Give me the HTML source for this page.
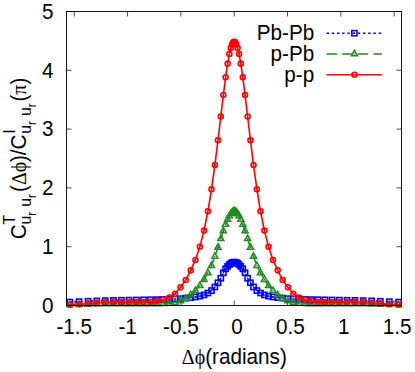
<!DOCTYPE html>
<html><head><meta charset="utf-8"><title>plot</title>
<style>
html,body{margin:0;padding:0;background:#fff;}
body{width:415px;height:372px;overflow:hidden;}
svg{display:block;}
.s{font-family:"Liberation Sans",sans-serif;font-size:22.6px;fill:#000;}
.sy{font-family:"Liberation Serif",serif;}
</style></head><body>
<svg width="415" height="372" viewBox="0 0 415 372">
<rect width="415" height="372" fill="#fff"/>
<path d="M74.25,305.5 v-5 M74.25,11.5 v5 M127.57,305.5 v-5 M127.57,11.5 v5 M180.88,305.5 v-5 M180.88,11.5 v5 M234.20,305.5 v-5 M234.20,11.5 v5 M287.51,305.5 v-5 M287.51,11.5 v5 M340.83,305.5 v-5 M340.83,11.5 v5 M394.14,305.5 v-5 M394.14,11.5 v5 M66.5,305.50 h5 M401.5,305.50 h-5 M66.5,246.70 h5 M401.5,246.70 h-5 M66.5,187.90 h5 M401.5,187.90 h-5 M66.5,129.10 h5 M401.5,129.10 h-5 M66.5,70.30 h5 M401.5,70.30 h-5 M66.5,11.50 h5 M401.5,11.50 h-5" stroke="#000" stroke-width="0.7" fill="none"/>
<polyline points="69.80,302.09 79.06,301.65 88.06,301.26 96.78,300.92 105.23,300.64 113.42,300.42 121.34,300.26 128.99,300.12 136.37,300.00 143.48,299.87 150.32,299.73 156.90,299.61 163.21,299.48 169.25,299.32 175.02,299.11 180.52,298.69 185.75,298.16 190.72,297.59 195.42,296.98 199.84,296.16 204.00,294.90 207.90,293.02 211.52,290.58 214.88,286.98 217.96,282.76 220.78,278.25 223.33,272.80 225.61,268.85 227.62,266.37 229.37,264.57 230.84,263.38 232.05,262.68 232.99,262.43 233.66,262.32 234.07,262.28 234.20,262.28 234.33,262.28 234.74,262.32 235.41,262.43 236.35,262.68 237.55,263.38 239.03,264.57 240.78,266.37 242.79,268.85 245.07,272.80 247.62,278.25 250.44,282.76 253.52,286.98 256.88,290.58 260.50,293.02 264.39,294.90 268.56,296.16 272.98,296.98 277.68,297.59 282.65,298.16 287.88,298.69 293.38,299.11 299.15,299.32 305.19,299.48 311.50,299.61 318.07,299.73 324.92,299.87 332.03,300.00 339.41,300.12 347.06,300.26 354.98,300.42 363.17,300.64 371.62,300.92 380.34,301.26 389.34,301.65 398.60,302.09" fill="none" stroke="#0000ff" stroke-width="1.6" stroke-dasharray="2.4 2.8" stroke-linejoin="round"/>
<circle cx="69.80" cy="302.09" r="0.75" fill="#0000ff"/><rect x="67.20" y="299.49" width="5.20" height="5.20" fill="none" stroke="#0000ff" stroke-width="1.55"/>
<circle cx="79.06" cy="301.65" r="0.75" fill="#0000ff"/><rect x="76.46" y="299.05" width="5.20" height="5.20" fill="none" stroke="#0000ff" stroke-width="1.55"/>
<circle cx="88.06" cy="301.26" r="0.75" fill="#0000ff"/><rect x="85.46" y="298.66" width="5.20" height="5.20" fill="none" stroke="#0000ff" stroke-width="1.55"/>
<circle cx="96.78" cy="300.92" r="0.75" fill="#0000ff"/><rect x="94.18" y="298.32" width="5.20" height="5.20" fill="none" stroke="#0000ff" stroke-width="1.55"/>
<circle cx="105.23" cy="300.64" r="0.75" fill="#0000ff"/><rect x="102.63" y="298.04" width="5.20" height="5.20" fill="none" stroke="#0000ff" stroke-width="1.55"/>
<circle cx="113.42" cy="300.42" r="0.75" fill="#0000ff"/><rect x="110.82" y="297.82" width="5.20" height="5.20" fill="none" stroke="#0000ff" stroke-width="1.55"/>
<circle cx="121.34" cy="300.26" r="0.75" fill="#0000ff"/><rect x="118.74" y="297.66" width="5.20" height="5.20" fill="none" stroke="#0000ff" stroke-width="1.55"/>
<circle cx="128.99" cy="300.12" r="0.75" fill="#0000ff"/><rect x="126.39" y="297.52" width="5.20" height="5.20" fill="none" stroke="#0000ff" stroke-width="1.55"/>
<circle cx="136.37" cy="300.00" r="0.75" fill="#0000ff"/><rect x="133.77" y="297.40" width="5.20" height="5.20" fill="none" stroke="#0000ff" stroke-width="1.55"/>
<circle cx="143.48" cy="299.87" r="0.75" fill="#0000ff"/><rect x="140.88" y="297.27" width="5.20" height="5.20" fill="none" stroke="#0000ff" stroke-width="1.55"/>
<circle cx="150.32" cy="299.73" r="0.75" fill="#0000ff"/><rect x="147.72" y="297.13" width="5.20" height="5.20" fill="none" stroke="#0000ff" stroke-width="1.55"/>
<circle cx="156.90" cy="299.61" r="0.75" fill="#0000ff"/><rect x="154.30" y="297.01" width="5.20" height="5.20" fill="none" stroke="#0000ff" stroke-width="1.55"/>
<circle cx="163.21" cy="299.48" r="0.75" fill="#0000ff"/><rect x="160.61" y="296.88" width="5.20" height="5.20" fill="none" stroke="#0000ff" stroke-width="1.55"/>
<circle cx="169.25" cy="299.32" r="0.75" fill="#0000ff"/><rect x="166.65" y="296.72" width="5.20" height="5.20" fill="none" stroke="#0000ff" stroke-width="1.55"/>
<circle cx="175.02" cy="299.11" r="0.75" fill="#0000ff"/><rect x="172.42" y="296.51" width="5.20" height="5.20" fill="none" stroke="#0000ff" stroke-width="1.55"/>
<circle cx="180.52" cy="298.69" r="0.75" fill="#0000ff"/><rect x="177.92" y="296.09" width="5.20" height="5.20" fill="none" stroke="#0000ff" stroke-width="1.55"/>
<circle cx="185.75" cy="298.16" r="0.75" fill="#0000ff"/><rect x="183.15" y="295.56" width="5.20" height="5.20" fill="none" stroke="#0000ff" stroke-width="1.55"/>
<circle cx="190.72" cy="297.59" r="0.75" fill="#0000ff"/><rect x="188.12" y="294.99" width="5.20" height="5.20" fill="none" stroke="#0000ff" stroke-width="1.55"/>
<circle cx="195.42" cy="296.98" r="0.75" fill="#0000ff"/><rect x="192.82" y="294.38" width="5.20" height="5.20" fill="none" stroke="#0000ff" stroke-width="1.55"/>
<circle cx="199.84" cy="296.16" r="0.75" fill="#0000ff"/><rect x="197.24" y="293.56" width="5.20" height="5.20" fill="none" stroke="#0000ff" stroke-width="1.55"/>
<circle cx="204.00" cy="294.90" r="0.75" fill="#0000ff"/><rect x="201.41" y="292.30" width="5.20" height="5.20" fill="none" stroke="#0000ff" stroke-width="1.55"/>
<circle cx="207.90" cy="293.02" r="0.75" fill="#0000ff"/><rect x="205.30" y="290.42" width="5.20" height="5.20" fill="none" stroke="#0000ff" stroke-width="1.55"/>
<circle cx="211.52" cy="290.58" r="0.75" fill="#0000ff"/><rect x="208.92" y="287.98" width="5.20" height="5.20" fill="none" stroke="#0000ff" stroke-width="1.55"/>
<circle cx="214.88" cy="286.98" r="0.75" fill="#0000ff"/><rect x="212.28" y="284.38" width="5.20" height="5.20" fill="none" stroke="#0000ff" stroke-width="1.55"/>
<circle cx="217.96" cy="282.76" r="0.75" fill="#0000ff"/><rect x="215.36" y="280.16" width="5.20" height="5.20" fill="none" stroke="#0000ff" stroke-width="1.55"/>
<circle cx="220.78" cy="278.25" r="0.75" fill="#0000ff"/><rect x="218.18" y="275.65" width="5.20" height="5.20" fill="none" stroke="#0000ff" stroke-width="1.55"/>
<circle cx="223.33" cy="272.80" r="0.75" fill="#0000ff"/><rect x="220.73" y="270.20" width="5.20" height="5.20" fill="none" stroke="#0000ff" stroke-width="1.55"/>
<circle cx="225.61" cy="268.85" r="0.75" fill="#0000ff"/><rect x="223.01" y="266.25" width="5.20" height="5.20" fill="none" stroke="#0000ff" stroke-width="1.55"/>
<circle cx="227.62" cy="266.37" r="0.75" fill="#0000ff"/><rect x="225.02" y="263.77" width="5.20" height="5.20" fill="none" stroke="#0000ff" stroke-width="1.55"/>
<circle cx="229.37" cy="264.57" r="0.75" fill="#0000ff"/><rect x="226.77" y="261.97" width="5.20" height="5.20" fill="none" stroke="#0000ff" stroke-width="1.55"/>
<circle cx="230.84" cy="263.38" r="0.75" fill="#0000ff"/><rect x="228.25" y="260.78" width="5.20" height="5.20" fill="none" stroke="#0000ff" stroke-width="1.55"/>
<circle cx="232.05" cy="262.68" r="0.75" fill="#0000ff"/><rect x="229.45" y="260.08" width="5.20" height="5.20" fill="none" stroke="#0000ff" stroke-width="1.55"/>
<circle cx="232.99" cy="262.43" r="0.75" fill="#0000ff"/><rect x="230.39" y="259.83" width="5.20" height="5.20" fill="none" stroke="#0000ff" stroke-width="1.55"/>
<circle cx="233.66" cy="262.32" r="0.75" fill="#0000ff"/><rect x="231.06" y="259.72" width="5.20" height="5.20" fill="none" stroke="#0000ff" stroke-width="1.55"/>
<circle cx="234.07" cy="262.28" r="0.75" fill="#0000ff"/><rect x="231.47" y="259.68" width="5.20" height="5.20" fill="none" stroke="#0000ff" stroke-width="1.55"/>
<circle cx="234.20" cy="262.28" r="0.75" fill="#0000ff"/><rect x="231.60" y="259.68" width="5.20" height="5.20" fill="none" stroke="#0000ff" stroke-width="1.55"/>
<circle cx="234.33" cy="262.28" r="0.75" fill="#0000ff"/><rect x="231.73" y="259.68" width="5.20" height="5.20" fill="none" stroke="#0000ff" stroke-width="1.55"/>
<circle cx="234.74" cy="262.32" r="0.75" fill="#0000ff"/><rect x="232.14" y="259.72" width="5.20" height="5.20" fill="none" stroke="#0000ff" stroke-width="1.55"/>
<circle cx="235.41" cy="262.43" r="0.75" fill="#0000ff"/><rect x="232.81" y="259.83" width="5.20" height="5.20" fill="none" stroke="#0000ff" stroke-width="1.55"/>
<circle cx="236.35" cy="262.68" r="0.75" fill="#0000ff"/><rect x="233.75" y="260.08" width="5.20" height="5.20" fill="none" stroke="#0000ff" stroke-width="1.55"/>
<circle cx="237.55" cy="263.38" r="0.75" fill="#0000ff"/><rect x="234.95" y="260.78" width="5.20" height="5.20" fill="none" stroke="#0000ff" stroke-width="1.55"/>
<circle cx="239.03" cy="264.57" r="0.75" fill="#0000ff"/><rect x="236.43" y="261.97" width="5.20" height="5.20" fill="none" stroke="#0000ff" stroke-width="1.55"/>
<circle cx="240.78" cy="266.37" r="0.75" fill="#0000ff"/><rect x="238.18" y="263.77" width="5.20" height="5.20" fill="none" stroke="#0000ff" stroke-width="1.55"/>
<circle cx="242.79" cy="268.85" r="0.75" fill="#0000ff"/><rect x="240.19" y="266.25" width="5.20" height="5.20" fill="none" stroke="#0000ff" stroke-width="1.55"/>
<circle cx="245.07" cy="272.80" r="0.75" fill="#0000ff"/><rect x="242.47" y="270.20" width="5.20" height="5.20" fill="none" stroke="#0000ff" stroke-width="1.55"/>
<circle cx="247.62" cy="278.25" r="0.75" fill="#0000ff"/><rect x="245.02" y="275.65" width="5.20" height="5.20" fill="none" stroke="#0000ff" stroke-width="1.55"/>
<circle cx="250.44" cy="282.76" r="0.75" fill="#0000ff"/><rect x="247.84" y="280.16" width="5.20" height="5.20" fill="none" stroke="#0000ff" stroke-width="1.55"/>
<circle cx="253.52" cy="286.98" r="0.75" fill="#0000ff"/><rect x="250.92" y="284.38" width="5.20" height="5.20" fill="none" stroke="#0000ff" stroke-width="1.55"/>
<circle cx="256.88" cy="290.58" r="0.75" fill="#0000ff"/><rect x="254.28" y="287.98" width="5.20" height="5.20" fill="none" stroke="#0000ff" stroke-width="1.55"/>
<circle cx="260.50" cy="293.02" r="0.75" fill="#0000ff"/><rect x="257.90" y="290.42" width="5.20" height="5.20" fill="none" stroke="#0000ff" stroke-width="1.55"/>
<circle cx="264.39" cy="294.90" r="0.75" fill="#0000ff"/><rect x="261.79" y="292.30" width="5.20" height="5.20" fill="none" stroke="#0000ff" stroke-width="1.55"/>
<circle cx="268.56" cy="296.16" r="0.75" fill="#0000ff"/><rect x="265.96" y="293.56" width="5.20" height="5.20" fill="none" stroke="#0000ff" stroke-width="1.55"/>
<circle cx="272.98" cy="296.98" r="0.75" fill="#0000ff"/><rect x="270.38" y="294.38" width="5.20" height="5.20" fill="none" stroke="#0000ff" stroke-width="1.55"/>
<circle cx="277.68" cy="297.59" r="0.75" fill="#0000ff"/><rect x="275.08" y="294.99" width="5.20" height="5.20" fill="none" stroke="#0000ff" stroke-width="1.55"/>
<circle cx="282.65" cy="298.16" r="0.75" fill="#0000ff"/><rect x="280.05" y="295.56" width="5.20" height="5.20" fill="none" stroke="#0000ff" stroke-width="1.55"/>
<circle cx="287.88" cy="298.69" r="0.75" fill="#0000ff"/><rect x="285.28" y="296.09" width="5.20" height="5.20" fill="none" stroke="#0000ff" stroke-width="1.55"/>
<circle cx="293.38" cy="299.11" r="0.75" fill="#0000ff"/><rect x="290.78" y="296.51" width="5.20" height="5.20" fill="none" stroke="#0000ff" stroke-width="1.55"/>
<circle cx="299.15" cy="299.32" r="0.75" fill="#0000ff"/><rect x="296.55" y="296.72" width="5.20" height="5.20" fill="none" stroke="#0000ff" stroke-width="1.55"/>
<circle cx="305.19" cy="299.48" r="0.75" fill="#0000ff"/><rect x="302.59" y="296.88" width="5.20" height="5.20" fill="none" stroke="#0000ff" stroke-width="1.55"/>
<circle cx="311.50" cy="299.61" r="0.75" fill="#0000ff"/><rect x="308.90" y="297.01" width="5.20" height="5.20" fill="none" stroke="#0000ff" stroke-width="1.55"/>
<circle cx="318.07" cy="299.73" r="0.75" fill="#0000ff"/><rect x="315.47" y="297.13" width="5.20" height="5.20" fill="none" stroke="#0000ff" stroke-width="1.55"/>
<circle cx="324.92" cy="299.87" r="0.75" fill="#0000ff"/><rect x="322.32" y="297.27" width="5.20" height="5.20" fill="none" stroke="#0000ff" stroke-width="1.55"/>
<circle cx="332.03" cy="300.00" r="0.75" fill="#0000ff"/><rect x="329.43" y="297.40" width="5.20" height="5.20" fill="none" stroke="#0000ff" stroke-width="1.55"/>
<circle cx="339.41" cy="300.12" r="0.75" fill="#0000ff"/><rect x="336.81" y="297.52" width="5.20" height="5.20" fill="none" stroke="#0000ff" stroke-width="1.55"/>
<circle cx="347.06" cy="300.26" r="0.75" fill="#0000ff"/><rect x="344.46" y="297.66" width="5.20" height="5.20" fill="none" stroke="#0000ff" stroke-width="1.55"/>
<circle cx="354.98" cy="300.42" r="0.75" fill="#0000ff"/><rect x="352.38" y="297.82" width="5.20" height="5.20" fill="none" stroke="#0000ff" stroke-width="1.55"/>
<circle cx="363.17" cy="300.64" r="0.75" fill="#0000ff"/><rect x="360.57" y="298.04" width="5.20" height="5.20" fill="none" stroke="#0000ff" stroke-width="1.55"/>
<circle cx="371.62" cy="300.92" r="0.75" fill="#0000ff"/><rect x="369.02" y="298.32" width="5.20" height="5.20" fill="none" stroke="#0000ff" stroke-width="1.55"/>
<circle cx="380.34" cy="301.26" r="0.75" fill="#0000ff"/><rect x="377.74" y="298.66" width="5.20" height="5.20" fill="none" stroke="#0000ff" stroke-width="1.55"/>
<circle cx="389.34" cy="301.65" r="0.75" fill="#0000ff"/><rect x="386.74" y="299.05" width="5.20" height="5.20" fill="none" stroke="#0000ff" stroke-width="1.55"/>
<circle cx="398.60" cy="302.09" r="0.75" fill="#0000ff"/><rect x="396.00" y="299.49" width="5.20" height="5.20" fill="none" stroke="#0000ff" stroke-width="1.55"/>
<polyline points="69.80,304.91 79.06,304.62 88.06,304.32 96.78,304.09 105.23,303.97 113.42,303.97 121.34,303.97 128.99,303.97 136.37,303.97 143.48,303.97 150.32,303.97 156.90,303.91 163.21,303.74 169.25,303.38 175.02,302.74 180.52,300.91 185.75,298.44 190.72,294.92 195.42,290.68 199.84,285.74 204.00,279.57 207.90,272.81 211.52,265.63 214.88,256.40 217.96,247.51 220.78,238.78 223.33,230.95 225.61,224.44 227.62,219.45 229.37,215.94 230.84,213.70 232.05,212.43 232.99,211.82 233.66,211.59 234.07,211.54 234.20,211.54 234.33,211.54 234.74,211.59 235.41,211.82 236.35,212.43 237.55,213.70 239.03,215.94 240.78,219.45 242.79,224.44 245.07,230.95 247.62,238.78 250.44,247.51 253.52,256.40 256.88,265.63 260.50,272.81 264.39,279.57 268.56,285.74 272.98,290.68 277.68,294.92 282.65,298.44 287.88,300.91 293.38,302.74 299.15,303.38 305.19,303.74 311.50,303.91 318.07,303.97 324.92,303.97 332.03,303.97 339.41,303.97 347.06,303.97 354.98,303.97 363.17,303.97 371.62,304.09 380.34,304.32 389.34,304.62 398.60,304.91" fill="none" stroke="#228b22" stroke-width="1.6" stroke-dasharray="10.4 5.2" stroke-linejoin="round"/>
<circle cx="69.80" cy="304.91" r="0.75" fill="#228b22"/><path d="M69.80,301.31 L72.80,306.71 L66.80,306.71 Z" fill="none" stroke="#228b22" stroke-width="1.55" stroke-linejoin="miter"/>
<circle cx="79.06" cy="304.62" r="0.75" fill="#228b22"/><path d="M79.06,301.02 L82.06,306.42 L76.06,306.42 Z" fill="none" stroke="#228b22" stroke-width="1.55" stroke-linejoin="miter"/>
<circle cx="88.06" cy="304.32" r="0.75" fill="#228b22"/><path d="M88.06,300.72 L91.06,306.12 L85.06,306.12 Z" fill="none" stroke="#228b22" stroke-width="1.55" stroke-linejoin="miter"/>
<circle cx="96.78" cy="304.09" r="0.75" fill="#228b22"/><path d="M96.78,300.49 L99.78,305.89 L93.78,305.89 Z" fill="none" stroke="#228b22" stroke-width="1.55" stroke-linejoin="miter"/>
<circle cx="105.23" cy="303.97" r="0.75" fill="#228b22"/><path d="M105.23,300.37 L108.23,305.77 L102.23,305.77 Z" fill="none" stroke="#228b22" stroke-width="1.55" stroke-linejoin="miter"/>
<circle cx="113.42" cy="303.97" r="0.75" fill="#228b22"/><path d="M113.42,300.37 L116.42,305.77 L110.42,305.77 Z" fill="none" stroke="#228b22" stroke-width="1.55" stroke-linejoin="miter"/>
<circle cx="121.34" cy="303.97" r="0.75" fill="#228b22"/><path d="M121.34,300.37 L124.34,305.77 L118.34,305.77 Z" fill="none" stroke="#228b22" stroke-width="1.55" stroke-linejoin="miter"/>
<circle cx="128.99" cy="303.97" r="0.75" fill="#228b22"/><path d="M128.99,300.37 L131.99,305.77 L125.99,305.77 Z" fill="none" stroke="#228b22" stroke-width="1.55" stroke-linejoin="miter"/>
<circle cx="136.37" cy="303.97" r="0.75" fill="#228b22"/><path d="M136.37,300.37 L139.37,305.77 L133.37,305.77 Z" fill="none" stroke="#228b22" stroke-width="1.55" stroke-linejoin="miter"/>
<circle cx="143.48" cy="303.97" r="0.75" fill="#228b22"/><path d="M143.48,300.37 L146.48,305.77 L140.48,305.77 Z" fill="none" stroke="#228b22" stroke-width="1.55" stroke-linejoin="miter"/>
<circle cx="150.32" cy="303.97" r="0.75" fill="#228b22"/><path d="M150.32,300.37 L153.32,305.77 L147.32,305.77 Z" fill="none" stroke="#228b22" stroke-width="1.55" stroke-linejoin="miter"/>
<circle cx="156.90" cy="303.91" r="0.75" fill="#228b22"/><path d="M156.90,300.31 L159.90,305.71 L153.90,305.71 Z" fill="none" stroke="#228b22" stroke-width="1.55" stroke-linejoin="miter"/>
<circle cx="163.21" cy="303.74" r="0.75" fill="#228b22"/><path d="M163.21,300.14 L166.21,305.54 L160.21,305.54 Z" fill="none" stroke="#228b22" stroke-width="1.55" stroke-linejoin="miter"/>
<circle cx="169.25" cy="303.38" r="0.75" fill="#228b22"/><path d="M169.25,299.78 L172.25,305.18 L166.25,305.18 Z" fill="none" stroke="#228b22" stroke-width="1.55" stroke-linejoin="miter"/>
<circle cx="175.02" cy="302.74" r="0.75" fill="#228b22"/><path d="M175.02,299.14 L178.02,304.54 L172.02,304.54 Z" fill="none" stroke="#228b22" stroke-width="1.55" stroke-linejoin="miter"/>
<circle cx="180.52" cy="300.91" r="0.75" fill="#228b22"/><path d="M180.52,297.31 L183.52,302.71 L177.52,302.71 Z" fill="none" stroke="#228b22" stroke-width="1.55" stroke-linejoin="miter"/>
<circle cx="185.75" cy="298.44" r="0.75" fill="#228b22"/><path d="M185.75,294.84 L188.75,300.24 L182.75,300.24 Z" fill="none" stroke="#228b22" stroke-width="1.55" stroke-linejoin="miter"/>
<circle cx="190.72" cy="294.92" r="0.75" fill="#228b22"/><path d="M190.72,291.32 L193.72,296.72 L187.72,296.72 Z" fill="none" stroke="#228b22" stroke-width="1.55" stroke-linejoin="miter"/>
<circle cx="195.42" cy="290.68" r="0.75" fill="#228b22"/><path d="M195.42,287.08 L198.42,292.48 L192.42,292.48 Z" fill="none" stroke="#228b22" stroke-width="1.55" stroke-linejoin="miter"/>
<circle cx="199.84" cy="285.74" r="0.75" fill="#228b22"/><path d="M199.84,282.14 L202.84,287.54 L196.84,287.54 Z" fill="none" stroke="#228b22" stroke-width="1.55" stroke-linejoin="miter"/>
<circle cx="204.00" cy="279.57" r="0.75" fill="#228b22"/><path d="M204.00,275.97 L207.00,281.37 L201.00,281.37 Z" fill="none" stroke="#228b22" stroke-width="1.55" stroke-linejoin="miter"/>
<circle cx="207.90" cy="272.81" r="0.75" fill="#228b22"/><path d="M207.90,269.21 L210.90,274.61 L204.90,274.61 Z" fill="none" stroke="#228b22" stroke-width="1.55" stroke-linejoin="miter"/>
<circle cx="211.52" cy="265.63" r="0.75" fill="#228b22"/><path d="M211.52,262.03 L214.52,267.43 L208.52,267.43 Z" fill="none" stroke="#228b22" stroke-width="1.55" stroke-linejoin="miter"/>
<circle cx="214.88" cy="256.40" r="0.75" fill="#228b22"/><path d="M214.88,252.80 L217.88,258.20 L211.88,258.20 Z" fill="none" stroke="#228b22" stroke-width="1.55" stroke-linejoin="miter"/>
<circle cx="217.96" cy="247.51" r="0.75" fill="#228b22"/><path d="M217.96,243.91 L220.96,249.31 L214.96,249.31 Z" fill="none" stroke="#228b22" stroke-width="1.55" stroke-linejoin="miter"/>
<circle cx="220.78" cy="238.78" r="0.75" fill="#228b22"/><path d="M220.78,235.18 L223.78,240.58 L217.78,240.58 Z" fill="none" stroke="#228b22" stroke-width="1.55" stroke-linejoin="miter"/>
<circle cx="223.33" cy="230.95" r="0.75" fill="#228b22"/><path d="M223.33,227.35 L226.33,232.75 L220.33,232.75 Z" fill="none" stroke="#228b22" stroke-width="1.55" stroke-linejoin="miter"/>
<circle cx="225.61" cy="224.44" r="0.75" fill="#228b22"/><path d="M225.61,220.84 L228.61,226.24 L222.61,226.24 Z" fill="none" stroke="#228b22" stroke-width="1.55" stroke-linejoin="miter"/>
<circle cx="227.62" cy="219.45" r="0.75" fill="#228b22"/><path d="M227.62,215.85 L230.62,221.25 L224.62,221.25 Z" fill="none" stroke="#228b22" stroke-width="1.55" stroke-linejoin="miter"/>
<circle cx="229.37" cy="215.94" r="0.75" fill="#228b22"/><path d="M229.37,212.34 L232.37,217.74 L226.37,217.74 Z" fill="none" stroke="#228b22" stroke-width="1.55" stroke-linejoin="miter"/>
<circle cx="230.84" cy="213.70" r="0.75" fill="#228b22"/><path d="M230.84,210.10 L233.84,215.50 L227.84,215.50 Z" fill="none" stroke="#228b22" stroke-width="1.55" stroke-linejoin="miter"/>
<circle cx="232.05" cy="212.43" r="0.75" fill="#228b22"/><path d="M232.05,208.83 L235.05,214.23 L229.05,214.23 Z" fill="none" stroke="#228b22" stroke-width="1.55" stroke-linejoin="miter"/>
<circle cx="232.99" cy="211.82" r="0.75" fill="#228b22"/><path d="M232.99,208.22 L235.99,213.62 L229.99,213.62 Z" fill="none" stroke="#228b22" stroke-width="1.55" stroke-linejoin="miter"/>
<circle cx="233.66" cy="211.59" r="0.75" fill="#228b22"/><path d="M233.66,207.99 L236.66,213.39 L230.66,213.39 Z" fill="none" stroke="#228b22" stroke-width="1.55" stroke-linejoin="miter"/>
<circle cx="234.07" cy="211.54" r="0.75" fill="#228b22"/><path d="M234.07,207.94 L237.07,213.34 L231.07,213.34 Z" fill="none" stroke="#228b22" stroke-width="1.55" stroke-linejoin="miter"/>
<circle cx="234.20" cy="211.54" r="0.75" fill="#228b22"/><path d="M234.20,207.94 L237.20,213.34 L231.20,213.34 Z" fill="none" stroke="#228b22" stroke-width="1.55" stroke-linejoin="miter"/>
<circle cx="234.33" cy="211.54" r="0.75" fill="#228b22"/><path d="M234.33,207.94 L237.33,213.34 L231.33,213.34 Z" fill="none" stroke="#228b22" stroke-width="1.55" stroke-linejoin="miter"/>
<circle cx="234.74" cy="211.59" r="0.75" fill="#228b22"/><path d="M234.74,207.99 L237.74,213.39 L231.74,213.39 Z" fill="none" stroke="#228b22" stroke-width="1.55" stroke-linejoin="miter"/>
<circle cx="235.41" cy="211.82" r="0.75" fill="#228b22"/><path d="M235.41,208.22 L238.41,213.62 L232.41,213.62 Z" fill="none" stroke="#228b22" stroke-width="1.55" stroke-linejoin="miter"/>
<circle cx="236.35" cy="212.43" r="0.75" fill="#228b22"/><path d="M236.35,208.83 L239.35,214.23 L233.35,214.23 Z" fill="none" stroke="#228b22" stroke-width="1.55" stroke-linejoin="miter"/>
<circle cx="237.55" cy="213.70" r="0.75" fill="#228b22"/><path d="M237.55,210.10 L240.55,215.50 L234.55,215.50 Z" fill="none" stroke="#228b22" stroke-width="1.55" stroke-linejoin="miter"/>
<circle cx="239.03" cy="215.94" r="0.75" fill="#228b22"/><path d="M239.03,212.34 L242.03,217.74 L236.03,217.74 Z" fill="none" stroke="#228b22" stroke-width="1.55" stroke-linejoin="miter"/>
<circle cx="240.78" cy="219.45" r="0.75" fill="#228b22"/><path d="M240.78,215.85 L243.78,221.25 L237.78,221.25 Z" fill="none" stroke="#228b22" stroke-width="1.55" stroke-linejoin="miter"/>
<circle cx="242.79" cy="224.44" r="0.75" fill="#228b22"/><path d="M242.79,220.84 L245.79,226.24 L239.79,226.24 Z" fill="none" stroke="#228b22" stroke-width="1.55" stroke-linejoin="miter"/>
<circle cx="245.07" cy="230.95" r="0.75" fill="#228b22"/><path d="M245.07,227.35 L248.07,232.75 L242.07,232.75 Z" fill="none" stroke="#228b22" stroke-width="1.55" stroke-linejoin="miter"/>
<circle cx="247.62" cy="238.78" r="0.75" fill="#228b22"/><path d="M247.62,235.18 L250.62,240.58 L244.62,240.58 Z" fill="none" stroke="#228b22" stroke-width="1.55" stroke-linejoin="miter"/>
<circle cx="250.44" cy="247.51" r="0.75" fill="#228b22"/><path d="M250.44,243.91 L253.44,249.31 L247.44,249.31 Z" fill="none" stroke="#228b22" stroke-width="1.55" stroke-linejoin="miter"/>
<circle cx="253.52" cy="256.40" r="0.75" fill="#228b22"/><path d="M253.52,252.80 L256.52,258.20 L250.52,258.20 Z" fill="none" stroke="#228b22" stroke-width="1.55" stroke-linejoin="miter"/>
<circle cx="256.88" cy="265.63" r="0.75" fill="#228b22"/><path d="M256.88,262.03 L259.88,267.43 L253.88,267.43 Z" fill="none" stroke="#228b22" stroke-width="1.55" stroke-linejoin="miter"/>
<circle cx="260.50" cy="272.81" r="0.75" fill="#228b22"/><path d="M260.50,269.21 L263.50,274.61 L257.50,274.61 Z" fill="none" stroke="#228b22" stroke-width="1.55" stroke-linejoin="miter"/>
<circle cx="264.39" cy="279.57" r="0.75" fill="#228b22"/><path d="M264.39,275.97 L267.39,281.37 L261.39,281.37 Z" fill="none" stroke="#228b22" stroke-width="1.55" stroke-linejoin="miter"/>
<circle cx="268.56" cy="285.74" r="0.75" fill="#228b22"/><path d="M268.56,282.14 L271.56,287.54 L265.56,287.54 Z" fill="none" stroke="#228b22" stroke-width="1.55" stroke-linejoin="miter"/>
<circle cx="272.98" cy="290.68" r="0.75" fill="#228b22"/><path d="M272.98,287.08 L275.98,292.48 L269.98,292.48 Z" fill="none" stroke="#228b22" stroke-width="1.55" stroke-linejoin="miter"/>
<circle cx="277.68" cy="294.92" r="0.75" fill="#228b22"/><path d="M277.68,291.32 L280.68,296.72 L274.68,296.72 Z" fill="none" stroke="#228b22" stroke-width="1.55" stroke-linejoin="miter"/>
<circle cx="282.65" cy="298.44" r="0.75" fill="#228b22"/><path d="M282.65,294.84 L285.65,300.24 L279.65,300.24 Z" fill="none" stroke="#228b22" stroke-width="1.55" stroke-linejoin="miter"/>
<circle cx="287.88" cy="300.91" r="0.75" fill="#228b22"/><path d="M287.88,297.31 L290.88,302.71 L284.88,302.71 Z" fill="none" stroke="#228b22" stroke-width="1.55" stroke-linejoin="miter"/>
<circle cx="293.38" cy="302.74" r="0.75" fill="#228b22"/><path d="M293.38,299.14 L296.38,304.54 L290.38,304.54 Z" fill="none" stroke="#228b22" stroke-width="1.55" stroke-linejoin="miter"/>
<circle cx="299.15" cy="303.38" r="0.75" fill="#228b22"/><path d="M299.15,299.78 L302.15,305.18 L296.15,305.18 Z" fill="none" stroke="#228b22" stroke-width="1.55" stroke-linejoin="miter"/>
<circle cx="305.19" cy="303.74" r="0.75" fill="#228b22"/><path d="M305.19,300.14 L308.19,305.54 L302.19,305.54 Z" fill="none" stroke="#228b22" stroke-width="1.55" stroke-linejoin="miter"/>
<circle cx="311.50" cy="303.91" r="0.75" fill="#228b22"/><path d="M311.50,300.31 L314.50,305.71 L308.50,305.71 Z" fill="none" stroke="#228b22" stroke-width="1.55" stroke-linejoin="miter"/>
<circle cx="318.07" cy="303.97" r="0.75" fill="#228b22"/><path d="M318.07,300.37 L321.07,305.77 L315.07,305.77 Z" fill="none" stroke="#228b22" stroke-width="1.55" stroke-linejoin="miter"/>
<circle cx="324.92" cy="303.97" r="0.75" fill="#228b22"/><path d="M324.92,300.37 L327.92,305.77 L321.92,305.77 Z" fill="none" stroke="#228b22" stroke-width="1.55" stroke-linejoin="miter"/>
<circle cx="332.03" cy="303.97" r="0.75" fill="#228b22"/><path d="M332.03,300.37 L335.03,305.77 L329.03,305.77 Z" fill="none" stroke="#228b22" stroke-width="1.55" stroke-linejoin="miter"/>
<circle cx="339.41" cy="303.97" r="0.75" fill="#228b22"/><path d="M339.41,300.37 L342.41,305.77 L336.41,305.77 Z" fill="none" stroke="#228b22" stroke-width="1.55" stroke-linejoin="miter"/>
<circle cx="347.06" cy="303.97" r="0.75" fill="#228b22"/><path d="M347.06,300.37 L350.06,305.77 L344.06,305.77 Z" fill="none" stroke="#228b22" stroke-width="1.55" stroke-linejoin="miter"/>
<circle cx="354.98" cy="303.97" r="0.75" fill="#228b22"/><path d="M354.98,300.37 L357.98,305.77 L351.98,305.77 Z" fill="none" stroke="#228b22" stroke-width="1.55" stroke-linejoin="miter"/>
<circle cx="363.17" cy="303.97" r="0.75" fill="#228b22"/><path d="M363.17,300.37 L366.17,305.77 L360.17,305.77 Z" fill="none" stroke="#228b22" stroke-width="1.55" stroke-linejoin="miter"/>
<circle cx="371.62" cy="304.09" r="0.75" fill="#228b22"/><path d="M371.62,300.49 L374.62,305.89 L368.62,305.89 Z" fill="none" stroke="#228b22" stroke-width="1.55" stroke-linejoin="miter"/>
<circle cx="380.34" cy="304.32" r="0.75" fill="#228b22"/><path d="M380.34,300.72 L383.34,306.12 L377.34,306.12 Z" fill="none" stroke="#228b22" stroke-width="1.55" stroke-linejoin="miter"/>
<circle cx="389.34" cy="304.62" r="0.75" fill="#228b22"/><path d="M389.34,301.02 L392.34,306.42 L386.34,306.42 Z" fill="none" stroke="#228b22" stroke-width="1.55" stroke-linejoin="miter"/>
<circle cx="398.60" cy="304.91" r="0.75" fill="#228b22"/><path d="M398.60,301.31 L401.60,306.71 L395.60,306.71 Z" fill="none" stroke="#228b22" stroke-width="1.55" stroke-linejoin="miter"/>
<polyline points="69.80,304.68 79.06,304.32 88.06,303.62 96.78,302.80 105.23,302.21 113.42,302.03 121.34,302.03 128.99,302.03 136.37,302.03 143.48,301.91 150.32,301.74 156.90,301.09 163.21,299.80 169.25,297.56 175.02,293.74 180.52,287.27 185.75,279.92 190.72,270.35 195.42,259.95 199.84,246.80 204.00,230.60 207.90,211.28 211.52,189.16 214.88,165.07 217.96,140.31 220.78,116.47 223.33,95.08 225.61,77.29 227.62,63.63 229.37,54.02 230.84,47.89 232.05,44.41 232.99,42.74 233.66,42.11 234.07,41.97 234.20,41.96 234.33,41.97 234.74,42.11 235.41,42.74 236.35,44.41 237.55,47.89 239.03,54.02 240.78,63.63 242.79,77.29 245.07,95.08 247.62,116.47 250.44,140.31 253.52,165.07 256.88,189.16 260.50,211.28 264.39,230.60 268.56,246.80 272.98,259.95 277.68,270.35 282.65,279.92 287.88,287.27 293.38,293.74 299.15,297.56 305.19,299.80 311.50,301.09 318.07,301.74 324.92,301.91 332.03,302.03 339.41,302.03 347.06,302.03 354.98,302.03 363.17,302.21 371.62,302.80 380.34,303.62 389.34,304.32 398.60,304.68" fill="none" stroke="#ff0000" stroke-width="1.6" stroke-linejoin="round"/>
<circle cx="69.80" cy="304.68" r="0.75" fill="#ff0000"/><circle cx="69.80" cy="304.68" r="2.5" fill="none" stroke="#ff0000" stroke-width="1.55"/>
<circle cx="79.06" cy="304.32" r="0.75" fill="#ff0000"/><circle cx="79.06" cy="304.32" r="2.5" fill="none" stroke="#ff0000" stroke-width="1.55"/>
<circle cx="88.06" cy="303.62" r="0.75" fill="#ff0000"/><circle cx="88.06" cy="303.62" r="2.5" fill="none" stroke="#ff0000" stroke-width="1.55"/>
<circle cx="96.78" cy="302.80" r="0.75" fill="#ff0000"/><circle cx="96.78" cy="302.80" r="2.5" fill="none" stroke="#ff0000" stroke-width="1.55"/>
<circle cx="105.23" cy="302.21" r="0.75" fill="#ff0000"/><circle cx="105.23" cy="302.21" r="2.5" fill="none" stroke="#ff0000" stroke-width="1.55"/>
<circle cx="113.42" cy="302.03" r="0.75" fill="#ff0000"/><circle cx="113.42" cy="302.03" r="2.5" fill="none" stroke="#ff0000" stroke-width="1.55"/>
<circle cx="121.34" cy="302.03" r="0.75" fill="#ff0000"/><circle cx="121.34" cy="302.03" r="2.5" fill="none" stroke="#ff0000" stroke-width="1.55"/>
<circle cx="128.99" cy="302.03" r="0.75" fill="#ff0000"/><circle cx="128.99" cy="302.03" r="2.5" fill="none" stroke="#ff0000" stroke-width="1.55"/>
<circle cx="136.37" cy="302.03" r="0.75" fill="#ff0000"/><circle cx="136.37" cy="302.03" r="2.5" fill="none" stroke="#ff0000" stroke-width="1.55"/>
<circle cx="143.48" cy="301.91" r="0.75" fill="#ff0000"/><circle cx="143.48" cy="301.91" r="2.5" fill="none" stroke="#ff0000" stroke-width="1.55"/>
<circle cx="150.32" cy="301.74" r="0.75" fill="#ff0000"/><circle cx="150.32" cy="301.74" r="2.5" fill="none" stroke="#ff0000" stroke-width="1.55"/>
<circle cx="156.90" cy="301.09" r="0.75" fill="#ff0000"/><circle cx="156.90" cy="301.09" r="2.5" fill="none" stroke="#ff0000" stroke-width="1.55"/>
<circle cx="163.21" cy="299.80" r="0.75" fill="#ff0000"/><circle cx="163.21" cy="299.80" r="2.5" fill="none" stroke="#ff0000" stroke-width="1.55"/>
<circle cx="169.25" cy="297.56" r="0.75" fill="#ff0000"/><circle cx="169.25" cy="297.56" r="2.5" fill="none" stroke="#ff0000" stroke-width="1.55"/>
<circle cx="175.02" cy="293.74" r="0.75" fill="#ff0000"/><circle cx="175.02" cy="293.74" r="2.5" fill="none" stroke="#ff0000" stroke-width="1.55"/>
<circle cx="180.52" cy="287.27" r="0.75" fill="#ff0000"/><circle cx="180.52" cy="287.27" r="2.5" fill="none" stroke="#ff0000" stroke-width="1.55"/>
<circle cx="185.75" cy="279.92" r="0.75" fill="#ff0000"/><circle cx="185.75" cy="279.92" r="2.5" fill="none" stroke="#ff0000" stroke-width="1.55"/>
<circle cx="190.72" cy="270.35" r="0.75" fill="#ff0000"/><circle cx="190.72" cy="270.35" r="2.5" fill="none" stroke="#ff0000" stroke-width="1.55"/>
<circle cx="195.42" cy="259.95" r="0.75" fill="#ff0000"/><circle cx="195.42" cy="259.95" r="2.5" fill="none" stroke="#ff0000" stroke-width="1.55"/>
<circle cx="199.84" cy="246.80" r="0.75" fill="#ff0000"/><circle cx="199.84" cy="246.80" r="2.5" fill="none" stroke="#ff0000" stroke-width="1.55"/>
<circle cx="204.00" cy="230.60" r="0.75" fill="#ff0000"/><circle cx="204.00" cy="230.60" r="2.5" fill="none" stroke="#ff0000" stroke-width="1.55"/>
<circle cx="207.90" cy="211.28" r="0.75" fill="#ff0000"/><circle cx="207.90" cy="211.28" r="2.5" fill="none" stroke="#ff0000" stroke-width="1.55"/>
<circle cx="211.52" cy="189.16" r="0.75" fill="#ff0000"/><circle cx="211.52" cy="189.16" r="2.5" fill="none" stroke="#ff0000" stroke-width="1.55"/>
<circle cx="214.88" cy="165.07" r="0.75" fill="#ff0000"/><circle cx="214.88" cy="165.07" r="2.5" fill="none" stroke="#ff0000" stroke-width="1.55"/>
<circle cx="217.96" cy="140.31" r="0.75" fill="#ff0000"/><circle cx="217.96" cy="140.31" r="2.5" fill="none" stroke="#ff0000" stroke-width="1.55"/>
<circle cx="220.78" cy="116.47" r="0.75" fill="#ff0000"/><circle cx="220.78" cy="116.47" r="2.5" fill="none" stroke="#ff0000" stroke-width="1.55"/>
<circle cx="223.33" cy="95.08" r="0.75" fill="#ff0000"/><circle cx="223.33" cy="95.08" r="2.5" fill="none" stroke="#ff0000" stroke-width="1.55"/>
<circle cx="225.61" cy="77.29" r="0.75" fill="#ff0000"/><circle cx="225.61" cy="77.29" r="2.5" fill="none" stroke="#ff0000" stroke-width="1.55"/>
<circle cx="227.62" cy="63.63" r="0.75" fill="#ff0000"/><circle cx="227.62" cy="63.63" r="2.5" fill="none" stroke="#ff0000" stroke-width="1.55"/>
<circle cx="229.37" cy="54.02" r="0.75" fill="#ff0000"/><circle cx="229.37" cy="54.02" r="2.5" fill="none" stroke="#ff0000" stroke-width="1.55"/>
<circle cx="230.84" cy="47.89" r="0.75" fill="#ff0000"/><circle cx="230.84" cy="47.89" r="2.5" fill="none" stroke="#ff0000" stroke-width="1.55"/>
<circle cx="232.05" cy="44.41" r="0.75" fill="#ff0000"/><circle cx="232.05" cy="44.41" r="2.5" fill="none" stroke="#ff0000" stroke-width="1.55"/>
<circle cx="232.99" cy="42.74" r="0.75" fill="#ff0000"/><circle cx="232.99" cy="42.74" r="2.5" fill="none" stroke="#ff0000" stroke-width="1.55"/>
<circle cx="233.66" cy="42.11" r="0.75" fill="#ff0000"/><circle cx="233.66" cy="42.11" r="2.5" fill="none" stroke="#ff0000" stroke-width="1.55"/>
<circle cx="234.07" cy="41.97" r="0.75" fill="#ff0000"/><circle cx="234.07" cy="41.97" r="2.5" fill="none" stroke="#ff0000" stroke-width="1.55"/>
<circle cx="234.20" cy="41.96" r="0.75" fill="#ff0000"/><circle cx="234.20" cy="41.96" r="2.5" fill="none" stroke="#ff0000" stroke-width="1.55"/>
<circle cx="234.33" cy="41.97" r="0.75" fill="#ff0000"/><circle cx="234.33" cy="41.97" r="2.5" fill="none" stroke="#ff0000" stroke-width="1.55"/>
<circle cx="234.74" cy="42.11" r="0.75" fill="#ff0000"/><circle cx="234.74" cy="42.11" r="2.5" fill="none" stroke="#ff0000" stroke-width="1.55"/>
<circle cx="235.41" cy="42.74" r="0.75" fill="#ff0000"/><circle cx="235.41" cy="42.74" r="2.5" fill="none" stroke="#ff0000" stroke-width="1.55"/>
<circle cx="236.35" cy="44.41" r="0.75" fill="#ff0000"/><circle cx="236.35" cy="44.41" r="2.5" fill="none" stroke="#ff0000" stroke-width="1.55"/>
<circle cx="237.55" cy="47.89" r="0.75" fill="#ff0000"/><circle cx="237.55" cy="47.89" r="2.5" fill="none" stroke="#ff0000" stroke-width="1.55"/>
<circle cx="239.03" cy="54.02" r="0.75" fill="#ff0000"/><circle cx="239.03" cy="54.02" r="2.5" fill="none" stroke="#ff0000" stroke-width="1.55"/>
<circle cx="240.78" cy="63.63" r="0.75" fill="#ff0000"/><circle cx="240.78" cy="63.63" r="2.5" fill="none" stroke="#ff0000" stroke-width="1.55"/>
<circle cx="242.79" cy="77.29" r="0.75" fill="#ff0000"/><circle cx="242.79" cy="77.29" r="2.5" fill="none" stroke="#ff0000" stroke-width="1.55"/>
<circle cx="245.07" cy="95.08" r="0.75" fill="#ff0000"/><circle cx="245.07" cy="95.08" r="2.5" fill="none" stroke="#ff0000" stroke-width="1.55"/>
<circle cx="247.62" cy="116.47" r="0.75" fill="#ff0000"/><circle cx="247.62" cy="116.47" r="2.5" fill="none" stroke="#ff0000" stroke-width="1.55"/>
<circle cx="250.44" cy="140.31" r="0.75" fill="#ff0000"/><circle cx="250.44" cy="140.31" r="2.5" fill="none" stroke="#ff0000" stroke-width="1.55"/>
<circle cx="253.52" cy="165.07" r="0.75" fill="#ff0000"/><circle cx="253.52" cy="165.07" r="2.5" fill="none" stroke="#ff0000" stroke-width="1.55"/>
<circle cx="256.88" cy="189.16" r="0.75" fill="#ff0000"/><circle cx="256.88" cy="189.16" r="2.5" fill="none" stroke="#ff0000" stroke-width="1.55"/>
<circle cx="260.50" cy="211.28" r="0.75" fill="#ff0000"/><circle cx="260.50" cy="211.28" r="2.5" fill="none" stroke="#ff0000" stroke-width="1.55"/>
<circle cx="264.39" cy="230.60" r="0.75" fill="#ff0000"/><circle cx="264.39" cy="230.60" r="2.5" fill="none" stroke="#ff0000" stroke-width="1.55"/>
<circle cx="268.56" cy="246.80" r="0.75" fill="#ff0000"/><circle cx="268.56" cy="246.80" r="2.5" fill="none" stroke="#ff0000" stroke-width="1.55"/>
<circle cx="272.98" cy="259.95" r="0.75" fill="#ff0000"/><circle cx="272.98" cy="259.95" r="2.5" fill="none" stroke="#ff0000" stroke-width="1.55"/>
<circle cx="277.68" cy="270.35" r="0.75" fill="#ff0000"/><circle cx="277.68" cy="270.35" r="2.5" fill="none" stroke="#ff0000" stroke-width="1.55"/>
<circle cx="282.65" cy="279.92" r="0.75" fill="#ff0000"/><circle cx="282.65" cy="279.92" r="2.5" fill="none" stroke="#ff0000" stroke-width="1.55"/>
<circle cx="287.88" cy="287.27" r="0.75" fill="#ff0000"/><circle cx="287.88" cy="287.27" r="2.5" fill="none" stroke="#ff0000" stroke-width="1.55"/>
<circle cx="293.38" cy="293.74" r="0.75" fill="#ff0000"/><circle cx="293.38" cy="293.74" r="2.5" fill="none" stroke="#ff0000" stroke-width="1.55"/>
<circle cx="299.15" cy="297.56" r="0.75" fill="#ff0000"/><circle cx="299.15" cy="297.56" r="2.5" fill="none" stroke="#ff0000" stroke-width="1.55"/>
<circle cx="305.19" cy="299.80" r="0.75" fill="#ff0000"/><circle cx="305.19" cy="299.80" r="2.5" fill="none" stroke="#ff0000" stroke-width="1.55"/>
<circle cx="311.50" cy="301.09" r="0.75" fill="#ff0000"/><circle cx="311.50" cy="301.09" r="2.5" fill="none" stroke="#ff0000" stroke-width="1.55"/>
<circle cx="318.07" cy="301.74" r="0.75" fill="#ff0000"/><circle cx="318.07" cy="301.74" r="2.5" fill="none" stroke="#ff0000" stroke-width="1.55"/>
<circle cx="324.92" cy="301.91" r="0.75" fill="#ff0000"/><circle cx="324.92" cy="301.91" r="2.5" fill="none" stroke="#ff0000" stroke-width="1.55"/>
<circle cx="332.03" cy="302.03" r="0.75" fill="#ff0000"/><circle cx="332.03" cy="302.03" r="2.5" fill="none" stroke="#ff0000" stroke-width="1.55"/>
<circle cx="339.41" cy="302.03" r="0.75" fill="#ff0000"/><circle cx="339.41" cy="302.03" r="2.5" fill="none" stroke="#ff0000" stroke-width="1.55"/>
<circle cx="347.06" cy="302.03" r="0.75" fill="#ff0000"/><circle cx="347.06" cy="302.03" r="2.5" fill="none" stroke="#ff0000" stroke-width="1.55"/>
<circle cx="354.98" cy="302.03" r="0.75" fill="#ff0000"/><circle cx="354.98" cy="302.03" r="2.5" fill="none" stroke="#ff0000" stroke-width="1.55"/>
<circle cx="363.17" cy="302.21" r="0.75" fill="#ff0000"/><circle cx="363.17" cy="302.21" r="2.5" fill="none" stroke="#ff0000" stroke-width="1.55"/>
<circle cx="371.62" cy="302.80" r="0.75" fill="#ff0000"/><circle cx="371.62" cy="302.80" r="2.5" fill="none" stroke="#ff0000" stroke-width="1.55"/>
<circle cx="380.34" cy="303.62" r="0.75" fill="#ff0000"/><circle cx="380.34" cy="303.62" r="2.5" fill="none" stroke="#ff0000" stroke-width="1.55"/>
<circle cx="389.34" cy="304.32" r="0.75" fill="#ff0000"/><circle cx="389.34" cy="304.32" r="2.5" fill="none" stroke="#ff0000" stroke-width="1.55"/>
<circle cx="398.60" cy="304.68" r="0.75" fill="#ff0000"/><circle cx="398.60" cy="304.68" r="2.5" fill="none" stroke="#ff0000" stroke-width="1.55"/>
<rect x="66.5" y="11.5" width="335.0" height="294.0" fill="none" stroke="#000" stroke-width="0.9"/>
<line x1="326.6" y1="33.2" x2="381.8" y2="33.2" stroke="#0000ff" stroke-width="1.5" stroke-dasharray="2.4 2.8"/>
<circle cx="354.40" cy="33.20" r="0.75" fill="#0000ff"/><rect x="351.80" y="30.60" width="5.20" height="5.20" fill="none" stroke="#0000ff" stroke-width="1.55"/>
<text transform="translate(314.20,40.10) scale(0.916,1)" text-anchor="end" class="s">Pb-Pb</text>
<line x1="326.6" y1="53.9" x2="381.8" y2="53.9" stroke="#228b22" stroke-width="1.5" stroke-dasharray="10.4 5.2"/>
<circle cx="354.40" cy="53.90" r="0.75" fill="#228b22"/><path d="M354.40,50.30 L357.40,55.70 L351.40,55.70 Z" fill="none" stroke="#228b22" stroke-width="1.55" stroke-linejoin="miter"/>
<text transform="translate(314.20,60.80) scale(0.916,1)" text-anchor="end" class="s">p-Pb</text>
<line x1="326.6" y1="74.8" x2="381.8" y2="74.8" stroke="#ff0000" stroke-width="1.5"/>
<circle cx="354.40" cy="74.80" r="0.75" fill="#ff0000"/><circle cx="354.40" cy="74.80" r="2.5" fill="none" stroke="#ff0000" stroke-width="1.55"/>
<text transform="translate(314.20,81.70) scale(0.916,1)" text-anchor="end" class="s">p-p</text>
<text transform="translate(74.25,333.70) scale(0.916,1)" text-anchor="middle" class="s">-1.5</text>
<text transform="translate(127.57,333.70) scale(0.916,1)" text-anchor="middle" class="s">-1</text>
<text transform="translate(180.88,333.70) scale(0.916,1)" text-anchor="middle" class="s">-0.5</text>
<text transform="translate(237.10,333.70) scale(0.916,1)" text-anchor="middle" class="s">0</text>
<text transform="translate(290.41,333.70) scale(0.916,1)" text-anchor="middle" class="s">0.5</text>
<text transform="translate(343.73,333.70) scale(0.916,1)" text-anchor="middle" class="s">1</text>
<text transform="translate(397.04,333.70) scale(0.916,1)" text-anchor="middle" class="s">1.5</text>
<text transform="translate(53.50,312.80) scale(0.916,1)" text-anchor="end" class="s">0</text>
<text transform="translate(53.50,254.00) scale(0.916,1)" text-anchor="end" class="s">1</text>
<text transform="translate(53.50,195.20) scale(0.916,1)" text-anchor="end" class="s">2</text>
<text transform="translate(53.50,136.40) scale(0.916,1)" text-anchor="end" class="s">3</text>
<text transform="translate(53.50,77.60) scale(0.916,1)" text-anchor="end" class="s">4</text>
<text transform="translate(53.50,18.80) scale(0.916,1)" text-anchor="end" class="s">5</text>
<text transform="translate(181.80,363.80) scale(0.98,1)" class="s sy" style="font-size:20.4px">Δϕ</text>
<text transform="translate(205.20,363.80) scale(0.916,1)" text-anchor="start" class="s">(radians)</text>
<g transform="translate(25.8,239.3) rotate(-90)"><text transform="translate(0.00,0.00) scale(0.916,1)" class="s">C</text><text transform="translate(14.90,-11.00) scale(0.916,1)" class="s" style="font-size:17.20px">T</text><text transform="translate(14.90,5.00) scale(0.916,1)" class="s" style="font-size:17.20px">u<tspan dy="5.6" style="font-size:12.60px">r</tspan><tspan dy="-5.6" dx="0.8"> u</tspan><tspan dy="5.6" style="font-size:12.60px">r</tspan></text><text transform="translate(47.40,0.00) scale(0.916,1)" class="s">(</text><text transform="translate(54.30,0.00) scale(0.98,1)" class="s sy" style="font-size:20.4px">Δϕ</text><text transform="translate(77.20,0.00) scale(0.916,1)" class="s">)/C</text><text transform="translate(105.50,-11.00) scale(0.916,1)" class="s" style="font-size:17.20px">I</text><text transform="translate(105.50,5.00) scale(0.916,1)" class="s" style="font-size:17.20px">u<tspan dy="5.6" style="font-size:12.60px">r</tspan><tspan dy="-5.6" dx="0.8"> u</tspan><tspan dy="5.6" style="font-size:12.60px">r</tspan></text><text transform="translate(137.70,0.00) scale(0.916,1)" class="s">(</text><text transform="translate(144.60,0.00) scale(0.98,1)" class="s sy" style="font-size:20.4px">π</text><text transform="translate(154.90,0.00) scale(0.916,1)" class="s">)</text></g>
</svg>
</body></html>
